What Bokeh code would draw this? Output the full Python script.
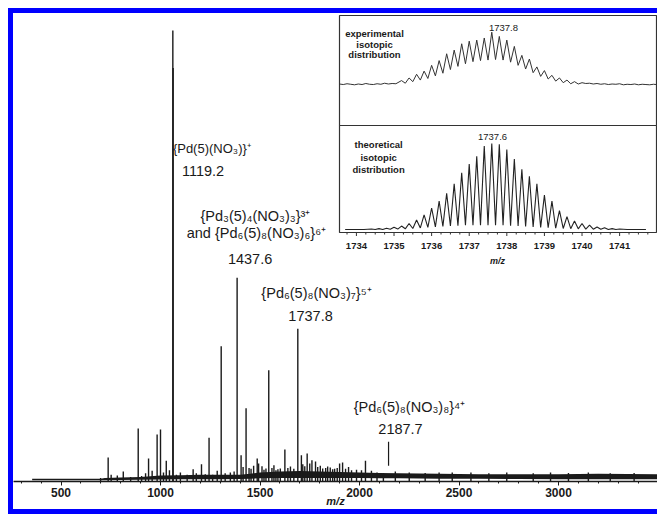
from bokeh.plotting import figure
from bokeh.models import Range1d, SingleIntervalTicker
from bokeh.core.properties import value
from bokeh.embed import file_html
from bokeh.resources import INLINE

# ---------------- data: main ESI mass spectrum ----------------
peak_mz = [699, 737, 752, 783, 813, 850, 888, 905, 925, 940, 958, 983, 1000, 1015,
           1029, 1045, 1062, 1063.5, 1080, 1100, 1134, 1164, 1180, 1206, 1225, 1244,
           1262, 1285, 1305, 1325, 1351, 1370, 1385, 1405, 1415, 1430, 1445, 1455,
           1468, 1486, 1493, 1510, 1520, 1530, 1544, 1560, 1570, 1580, 1590, 1602,
           1625, 1640, 1653, 1670, 1690, 1708, 1715, 1725, 1737, 1750, 1761, 1779,
           1790, 1803, 1815, 1830, 1840, 1853, 1865, 1875, 1888, 1900, 1915, 1930,
           1945, 1960, 1985, 2010, 2030, 2060, 2088, 2120, 2180, 2250, 2330, 2400,
           2466, 2560, 2650, 2740, 2873, 2960, 3050, 3150, 3260, 3380]
peak_int = [0.8, 5.3, 1.5, 1.3, 2.2, 1.0, 11.7, 1.2, 1.8, 5.1, 2.4, 10.4, 11.5, 2.0,
            4.6, 2.5, 99.8, 91.5, 1.5, 2.0, 1.5, 2.7, 1.8, 3.8, 1.6, 9.7,
            1.5, 2.4, 29.9, 1.8, 2.0, 2.2, 45.1, 5.8, 3.2, 16.2, 3.0, 2.8,
            3.5, 5.1, 4.0, 3.4, 2.6, 2.9, 24.6, 3.0, 3.6, 2.5, 2.7, 2.9,
            7.1, 3.0, 3.3, 2.8, 33.8, 5.8, 3.8, 3.4, 6.2, 4.0, 4.7, 4.4,
            3.2, 3.5, 2.9, 3.0, 3.3, 3.1, 2.7, 2.8, 3.0, 4.0, 4.2, 2.8,
            3.2, 2.5, 2.6, 2.5, 4.6, 2.4, 2.0, 1.8, 2.2, 2.0, 1.9, 2.0,
            2.0, 2.0, 1.8, 2.0, 1.8, 2.0, 1.9, 2.0, 1.8, 1.9]

# baseline noise envelope
base_mz = [355, 700, 720, 800, 900, 1000, 1100, 1200, 1300, 1400, 1450, 1500, 1600,
           1700, 1800, 1900, 2000, 2100, 2200, 2400, 2600, 2800, 3000, 3200, 3497]
base_low = [0.3, 0.3, 0.3, 0.35, 0.4, 0.45, 0.5, 0.5, 0.5, 0.55, 0.6, 0.7, 0.8,
            0.8, 0.8, 0.8, 0.75, 0.7, 0.7, 0.6, 0.6, 0.55, 0.5, 0.5, 0.5]
base_high = [0.6, 0.6, 0.8, 0.9, 1.0, 1.3, 1.4, 1.5, 1.5, 1.5, 1.7, 2.0, 2.2,
             2.3, 2.2, 2.1, 2.0, 1.9, 1.8, 1.7, 1.6, 1.6, 1.6, 1.7, 1.6]

# marker line for the 2187.7 species
marker_mz = [2146]
marker_lo = [3.5]
marker_hi = [8.8]

# peak annotations
label_text = ["{Pd(5)(NO\u2083)}\u207a", "1119.2",
              "{Pd\u2083(5)\u2084(NO\u2083)\u2083}\u00b3\u207a",
              "and {Pd\u2086(5)\u2088(NO\u2083)\u2086}\u2076\u207a", "1437.6",
              "{Pd\u2086(5)\u2088(NO\u2083)\u2087}\u2075\u207a", "1737.8",
              "{Pd\u2086(5)\u2088(NO\u2083)\u2088}\u2074\u207a", "2187.7"]
label_mz = [1258, 1214, 1477, 1482, 1450, 1784, 1754, 2251, 2206]
label_int = [73.7, 68.6, 58.8, 54.9, 49.3, 41.6, 36.7, 16.4, 11.7]
label_size = ["13px", "14.5px", "14.5px", "14.5px", "14.5px", "14.5px", "14.5px",
              "14.5px", "14.5px"]

main_ticks_interval = 500

# ---------------- data: inset isotopic distributions ----------------
exp_tail_l_mz = [1733.55, 1733.65, 1733.75, 1733.85, 1733.95, 1734.05, 1734.15, 1734.25,
                 1734.35, 1734.45, 1734.55, 1734.65, 1734.75, 1734.85, 1734.95, 1735.05]
exp_tail_l_int = [1.5, 0.5, 2.0, 1.0, 0.0, 1.5, 0.5, 2.5, 1.0, 0.5, 2.0, 1.0, 3.0, 1.5, 2.5, 2.0]
exp_peak_mz = [1735.2, 1735.4, 1735.6, 1735.8, 1736.0, 1736.2, 1736.4, 1736.6, 1736.8,
               1737.0, 1737.2, 1737.4, 1737.6, 1737.8, 1738.0, 1738.2, 1738.4, 1738.6,
               1738.8, 1739.0, 1739.2, 1739.4, 1739.6, 1739.8, 1740.0]
exp_peak_int = [8, 13, 20, 26, 37, 46, 59, 66, 78, 83, 85, 89, 100, 92, 85, 73, 56, 49,
                34, 27, 18, 13, 9, 6, 4]
exp_valley_int = [3, 6, 9, 12, 17, 22, 29, 35, 40, 44, 46, 47, 48, 47, 43, 37, 30, 23,
                  16, 11, 7, 4, 2, 1.5]
exp_tail_r_mz = [1740.1, 1740.2, 1740.3, 1740.4, 1740.5, 1740.6, 1740.7, 1740.8, 1740.9,
                 1741.0, 1741.1, 1741.2, 1741.3, 1741.4, 1741.5, 1741.6, 1741.7, 1741.8,
                 1741.9, 1741.98]
exp_tail_r_int = [2.5, 3.0, 1.5, 2.5, 1.0, 2.0, 0.5, 1.5, 1.0, 2.0, 0.0, 1.0, 0.5, 1.5,
                  0.0, 1.0, 0.5, 0.0, 1.0, 0.5]

theo_peak_mz = [1734.4, 1734.6, 1734.8, 1735.0, 1735.2, 1735.4, 1735.6, 1735.8, 1736.0,
                1736.2, 1736.4, 1736.6, 1736.8, 1737.0, 1737.2, 1737.4, 1737.6, 1737.8,
                1738.0, 1738.2, 1738.4, 1738.6, 1738.8, 1739.0, 1739.2, 1739.4, 1739.6,
                1739.8, 1740.0, 1740.2, 1740.4, 1740.6, 1740.8, 1741.0]
theo_peak_int = [0.5, 1, 1.5, 2.5, 4, 7, 11, 17, 25, 33, 42, 53, 66, 76, 85, 97, 100, 99,
                 93, 82, 70, 62, 53, 40, 33, 22, 15, 10, 7, 5, 3, 2, 1, 0.5]
theo_valley_int = [0, 0, 0.3, 0.5, 0.8, 1.2, 1.8, 2.5, 3, 3.5, 4, 4.5, 5, 5, 5, 5, 5, 5,
                   4.5, 4, 3.5, 3, 2.5, 2, 1.5, 1.2, 1, 0.8, 0.5, 0.3, 0.2, 0, 0]
theo_tail_l_mz = [1733.7, 1734.2]
theo_tail_r_mz = [1741.2, 1741.7]

inset_ticks = [1734, 1735, 1736, 1737, 1738, 1739, 1740, 1741]
exp_note = ["experimental", "isotopic", "distribution"]
theo_note = ["theoretical", "isotopic", "distribution"]
exp_max_label = ["1737.8"]
theo_max_label = ["1737.6"]

# ---------------- layout (page pixels) ----------------
FRAME_W, FRAME_H = 644, 468
FRAME_LEFT, FRAME_TOP = 13, 13
FRAME_RIGHT = FRAME_LEFT + FRAME_W
FRAME_BOTTOM = FRAME_TOP + FRAME_H


def xr(page_ref, val_ref, px_per_unit):
    start = val_ref - (page_ref - FRAME_LEFT) / px_per_unit
    return Range1d(start, start + FRAME_W / px_per_unit)


def yr(page_ref, val_ref, px_per_unit):
    start = val_ref - (FRAME_BOTTOM - page_ref) / px_per_unit
    return Range1d(start, start + FRAME_H / px_per_unit)


INK = "#1a1a1a"
FONT = value("Liberation Sans")
BLUE = "#0000ff"

p = figure(frame_width=FRAME_W, frame_height=FRAME_H,
           x_range=xr(160, 1000, 0.199), y_range=yr(FRAME_BOTTOM, 0, 4.52),
           output_backend="svg", toolbar_location=None, y_axis_location=None,
           min_border_left=0, min_border_right=0, min_border_top=0,
           min_border_bottom=27, outline_line_color=None,
           background_fill_color="white", border_fill_color="white")
p.grid.visible = False
# blue frame on the left, top and bottom (painted outside the figure box)
p.styles = {"margin-left": f"{FRAME_LEFT}px", "margin-top": f"{FRAME_TOP}px",
            "box-shadow": (f"-5px 0 0 0 {BLUE}, 0 -5px 0 0 {BLUE}, 0 5px 0 0 {BLUE}, "
                           f"-5px -5px 0 0 {BLUE}, -5px 5px 0 0 {BLUE}")}

p.extra_x_ranges = {"ix": xr(339, 1733.55, 37.6), "px": Range1d(FRAME_LEFT, FRAME_RIGHT)}
p.extra_y_ranges = {"ey": yr(84.3, 0, 0.526), "ty": yr(229, 0, 0.86),
                    "py": Range1d(FRAME_BOTTOM, FRAME_TOP)}

# main x axis
ax = p.xaxis[0]
ax.ticker = SingleIntervalTicker(interval=main_ticks_interval, num_minor_ticks=5)
ax.axis_line_width = 1.5
ax.axis_line_color = INK
ax.major_tick_in = 0
ax.major_tick_out = 4
ax.minor_tick_in = 0
ax.minor_tick_out = 2
ax.major_tick_line_color = INK
ax.minor_tick_line_color = INK
ax.major_label_text_font = "Liberation Sans"
ax.major_label_text_font_style = "bold"
ax.major_label_text_font_size = "12px"
ax.major_label_text_color = INK
ax.major_label_standoff = 2
ax.axis_label = "m/z"
ax.axis_label_text_font = "Liberation Sans"
ax.axis_label_text_font_style = "bold italic"
ax.axis_label_text_font_size = "11px"
ax.axis_label_text_color = INK
ax.axis_label_standoff = -5

# spectrum
p.varea(x=base_mz, y1=base_low, y2=base_high, fill_color=INK)
p.segment(x0=peak_mz, y0=[0] * len(peak_mz), x1=peak_mz, y1=peak_int,
          line_color=INK, line_width=1.4)
p.segment(x0=marker_mz, y0=marker_lo, x1=marker_mz, y1=marker_hi,
          line_color=INK, line_width=1.2)
p.text(x=label_mz, y=label_int, text=label_text, text_font=FONT,
       text_font_size=label_size, text_align="center", text_baseline="middle",
       text_color=INK)

# inset frames
p.quad(left=[339, 339], right=[656, 656], top=[15, 125], bottom=[125, 232],
       fill_color="white", line_color="#333333", line_width=1.2,
       x_range_name="px", y_range_name="py")

# experimental curve
exp_x = list(exp_tail_l_mz)
exp_y = list(exp_tail_l_int)
for i, (m, v) in enumerate(zip(exp_peak_mz, exp_peak_int)):
    exp_x.append(m)
    exp_y.append(v)
    if i < len(exp_valley_int):
        exp_x.append((m + exp_peak_mz[i + 1]) / 2)
        exp_y.append(exp_valley_int[i])
exp_x += exp_tail_r_mz
exp_y += exp_tail_r_int
p.line(exp_x, exp_y, line_color="#333333", line_width=1.0,
       x_range_name="ix", y_range_name="ey")

# theoretical curve
th_x = list(theo_tail_l_mz)
th_y = [0] * len(theo_tail_l_mz)
for i, (m, v) in enumerate(zip(theo_peak_mz, theo_peak_int)):
    th_x.append(m)
    th_y.append(v)
    if i < len(theo_valley_int):
        th_x.append((m + theo_peak_mz[i + 1]) / 2)
        th_y.append(theo_valley_int[i])
th_x += theo_tail_r_mz
th_y += [0] * len(theo_tail_r_mz)
p.line(th_x, th_y, line_color="#222222", line_width=1.1,
       x_range_name="ix", y_range_name="ty")

# inset axis ticks and labels
minor = [1733.75 + 0.25 * k for k in range(33) if (1733.75 + 0.25 * k) % 1 != 0]
p.segment(x0=inset_ticks, y0=[232] * len(inset_ticks), x1=inset_ticks,
          y1=[235.5] * len(inset_ticks), line_color="#333333", line_width=1,
          x_range_name="ix", y_range_name="py")
p.segment(x0=minor, y0=[232] * len(minor), x1=minor, y1=[234] * len(minor),
          line_color="#333333", line_width=1, x_range_name="ix", y_range_name="py")
p.text(x=inset_ticks, y=[245.5] * len(inset_ticks), text=[str(t) for t in inset_ticks],
       text_font=FONT, text_font_style="bold", text_font_size="9.5px",
       text_align="center", text_baseline="middle", text_color=INK,
       x_range_name="ix", y_range_name="py")
p.text(x=[1737.75], y=[260], text=["m/z"], text_font=FONT,
       text_font_style="bold italic", text_font_size="9px", text_align="center",
       text_baseline="middle", text_color=INK, x_range_name="ix", y_range_name="py")

# inset notes
p.text(x=[1734.48] * 3, y=[97.5, 76.6, 57.6], text=exp_note, text_font=FONT,
       text_font_style="bold", text_font_size="9.5px", text_align="center",
       text_baseline="middle", text_color=INK, x_range_name="ix", y_range_name="ey")
p.text(x=[1734.59] * 3, y=[98.8, 83.7, 69.8], text=theo_note, text_font=FONT,
       text_font_style="bold", text_font_size="9.5px", text_align="center",
       text_baseline="middle", text_color=INK, x_range_name="ix", y_range_name="ty")
p.text(x=[1737.91], y=[108.9], text=exp_max_label, text_font=FONT,
       text_font_size="9.5px", text_align="center", text_baseline="middle",
       text_color=INK, x_range_name="ix", y_range_name="ey")
p.text(x=[1737.62], y=[107], text=theo_max_label, text_font=FONT,
       text_font_size="9.5px", text_align="center", text_baseline="middle",
       text_color=INK, x_range_name="ix", y_range_name="ty")

open("out.html", "w").write(file_html(p, INLINE))
